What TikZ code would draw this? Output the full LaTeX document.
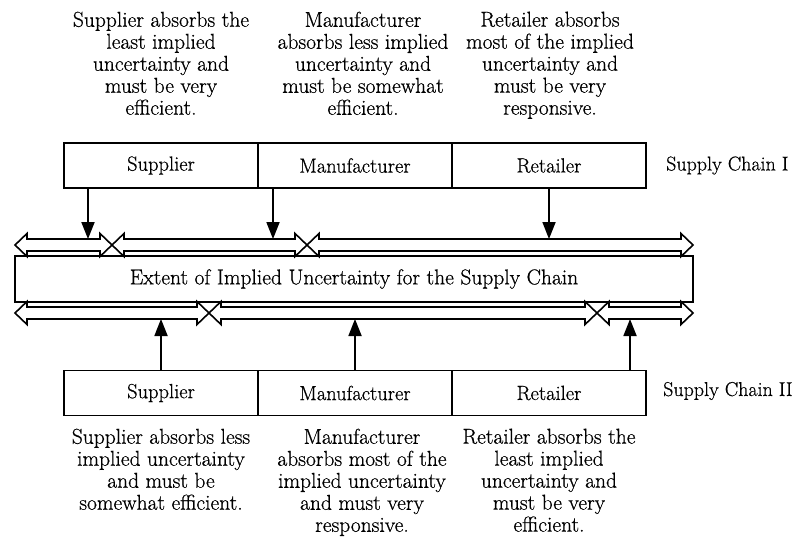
\documentclass[tikz,border=0pt]{standalone}
\usepackage{fontspec}
\setmainfont{Latin Modern Roman}[BoldFont=Latin Modern Roman, BoldFeatures={FakeBold=0.6}]
\usetikzlibrary{arrows.meta}

% hollow two-headed arrow from x=#1 to x=#2 on the line y=#3
\newcommand{\dblarrow}[3]{%
  \draw[band] (#1,#3) -- ({#1+12},{#3-11.5}) -- ({#1+12},{#3-6})
    -- ({#2-12},{#3-6}) -- ({#2-12},{#3-11.5}) -- (#2,#3)
    -- ({#2-12},{#3+11.5}) -- ({#2-12},{#3+6}) -- ({#1+12},{#3+6})
    -- ({#1+12},{#3+11.5}) -- cycle;}

\begin{document}
\begin{tikzpicture}[x=1pt,y=-1pt,
  font=\bfseries\fontsize{21.5}{22}\selectfont,
  stage/.style={draw,line width=1.8pt,minimum width=194pt,minimum height=45pt,inner sep=0pt,
    font=\bfseries\fontsize{20.5}{22}\selectfont},
  note/.style={align=center,anchor=north,inner sep=0pt},
  chain/.style={anchor=west,inner sep=0pt,font=\bfseries\fontsize{20}{22}\selectfont},
  link/.style={line width=1.8pt,-{Triangle[length=17pt,width=13pt]}},
  band/.style={line width=1.6pt,line join=miter}
]
\useasboundingbox (0,0) rectangle (800,538);

% descriptions for supply chain I
\node[note] (n1) at (161,11.5) {Supplier absorbs the\\least implied\\uncertainty and\\must be very\\efficient.};
\node[note] (n2) at (363,11.5) {Manufacturer\\absorbs less implied\\uncertainty and\\must be somewhat\\efficient.};
\node[note] (n3) at (550,11.5) {Retailer absorbs\\most of the implied\\uncertainty and\\must be very\\responsive.};

% supply chain I stages
\node[stage] (s1) at (161,165.5) {Supplier};
\node[stage] (m1) at (355,165.5) {Manufacturer};
\node[stage] (r1) at (549,165.5) {Retailer};
\node[chain] (c1) at (666,165.5) {Supply Chain I};

% central spectrum
\node[draw,line width=1.8pt,minimum width=678pt,minimum height=46pt,inner sep=0pt]
  (ext) at (354,279) {Extent of Implied Uncertainty for the Supply Chain};

% ranges above and below the spectrum
\dblarrow{15}{112}{245}
\dblarrow{112}{307}{245}
\dblarrow{307}{693}{245}
\dblarrow{15}{209}{313}
\dblarrow{209}{597}{313}
\dblarrow{597}{693}{313}

% supply chain II stages
\node[stage] (s2) at (161,393) {Supplier};
\node[stage] (m2) at (355,393) {Manufacturer};
\node[stage] (r2) at (549,393) {Retailer};
\node[chain] (c2) at (663,391) {Supply Chain II};

% descriptions for supply chain II
\node[note] (b1) at (161,428.5) {Supplier absorbs less\\implied uncertainty\\and must be\\somewhat efficient.};
\node[note] (b2) at (362,428.5) {Manufacturer\\absorbs most of the\\implied uncertainty\\and must very\\responsive.};
\node[note] (b3) at (549,428.5) {Retailer absorbs the\\least implied\\uncertainty and\\must be very\\efficient.};

% pointers from stages to their share of uncertainty
\coordinate (d1) at (88,239);
\coordinate (d2) at (273,239);
\coordinate (d3) at (549,239);
\draw[link] (s1.south -| d1) -- (d1);
\draw[link] (m1.south -| d2) -- (d2);
\draw[link] (r1.south -| d3) -- (d3);

\coordinate (u1) at (161,319);
\coordinate (u2) at (355,319);
\coordinate (u3) at (630,319);
\draw[link] (s2.north -| u1) -- (u1);
\draw[link] (m2.north -| u2) -- (u2);
\draw[link] (r2.north -| u3) -- (u3);
\end{tikzpicture}
\end{document}
